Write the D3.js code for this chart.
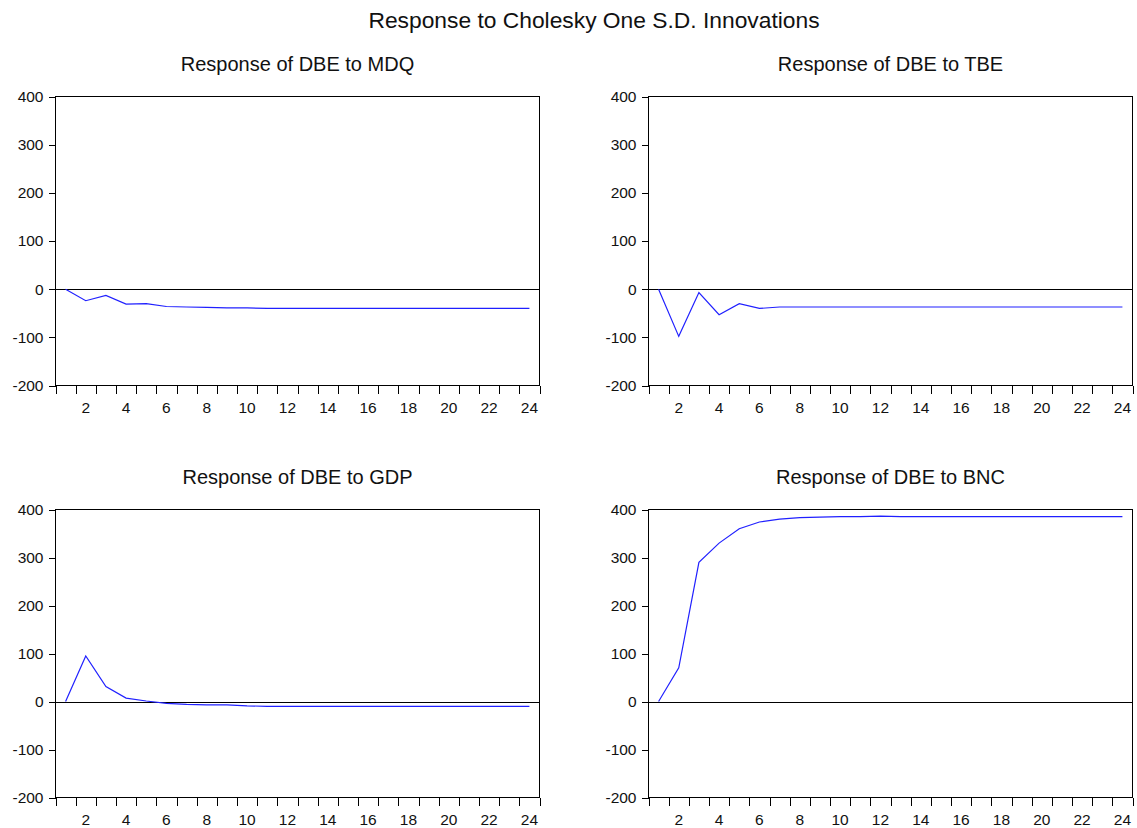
<!DOCTYPE html>
<html>
<head>
<meta charset="utf-8">
<script src="https://cdn.jsdelivr.net/npm/d3@7"></script>
<style>
  body { margin: 0; background: #fff; }
  text { font-family: "Liberation Sans", Arial, sans-serif; fill: #111; }
</style>
</head>
<body>
<div id="chart"></div>
<script>
// periods 1..24
var periods = d3.range(1, 25)

// responses
var respMDQ = [0, -24, -13, -31, -30, -36, -37, -38, -39, -39, -40, -40, -40, -40, -40, -40, -40, -40, -40, -40, -40, -40, -40, -40]
var respTBE = [0, -98, -7, -53, -30, -40, -37, -37, -37, -37, -37, -37, -37, -37, -37, -37, -37, -37, -37, -37, -37, -37, -37, -37]
var respGDP = [0, 95, 31, 7, 1, -4, -6, -7, -7, -9, -10, -10, -10, -10, -10, -10, -10, -10, -10, -10, -10, -10, -10, -10]
var respBNC = [0, 70, 290, 330, 360, 374, 380, 383, 384, 385, 385, 386, 385, 385, 385, 385, 385, 385, 385, 385, 385, 385, 385, 385]

var panelTitles = ["Response of DBE to MDQ", "Response of DBE to TBE", "Response of DBE to GDP", "Response of DBE to BNC"]
var yTicks = [-200, -100, 0, 100, 200, 300, 400]
var xLabels = [2, 4, 6, 8, 10, 12, 14, 16, 18, 20, 22, 24]

var series = [respMDQ, respTBE, respGDP, respBNC]

// create svg element:
var svg = d3.select("#chart").append("svg").attr("width", 1137).attr("height", 828)

svg.append("text")
  .attr("x", 594)
  .attr("y", 28)
  .attr("text-anchor", "middle")
  .style("font-size", "22.8px")
  .text("Response to Cholesky One S.D. Innovations")

// panel boxes: left, right, top, bottom
var boxes = [
  [55.5, 539.5, 96.5, 385.5],
  [648.5, 1132.5, 96.5, 385.5],
  [55.5, 539.5, 509.5, 797.5],
  [648.5, 1132.5, 509.5, 797.5]
]

boxes.forEach(function(b, i) {
  var x = d3.scaleLinear().domain([0.5, 24.5]).range([b[0], b[1]])
  var y = d3.scaleLinear().domain([-200, 400]).range([b[3], b[2]])
  var g = svg.append("g")

  // subplot title
  g.append("text")
    .attr("x", (b[0] + b[1]) / 2)
    .attr("y", b[2] - 26)
    .attr("text-anchor", "middle")
    .style("font-size", "20px")
    .text(panelTitles[i])

  // frame
  g.append("rect")
    .attr("x", b[0]).attr("y", b[2])
    .attr("width", b[1] - b[0]).attr("height", b[3] - b[2])
    .attr("fill", "none").attr("stroke", "#000").attr("stroke-width", 1)
    .attr("shape-rendering", "crispEdges")

  // y axis
  var yAxis = d3.axisLeft(y).tickValues(yTicks).tickSize(7).tickPadding(5).tickFormat(function(d) { return String(d) })
  var ya = g.append("g").attr("transform", "translate(" + b[0] + ",0)").call(yAxis)
  ya.select(".domain").remove()
  ya.selectAll("text").style("font-size", "15.5px").style("font-family", "Liberation Sans, Arial, sans-serif").attr("fill", "#111")
  ya.selectAll("line").attr("stroke-width", 1).attr("shape-rendering", "crispEdges")

  // x axis: ticks between periods, labels on even periods
  var xTickPos = d3.range(0.5, 25, 1)
  var xAxis = d3.axisBottom(x).tickValues(xTickPos).tickSize(8).tickFormat("")
  var xa = g.append("g").attr("transform", "translate(0," + b[3] + ")").call(xAxis)
  xa.select(".domain").remove()
  xa.selectAll("line").attr("stroke-width", 1).attr("shape-rendering", "crispEdges")

  g.selectAll(".xlab").data(xLabels).enter().append("text")
    .attr("x", function(d) { return x(d) })
    .attr("y", b[3] + 27)
    .attr("text-anchor", "middle")
    .style("font-size", "15.5px")
    .text(function(d) { return d })

  // zero line
  var y0 = Math.round(y(0)) + 0.5
  g.append("line")
    .attr("x1", b[0]).attr("x2", b[1])
    .attr("y1", y0).attr("y2", y0)
    .attr("stroke", "#000").attr("stroke-width", 1)
    .attr("shape-rendering", "crispEdges")

  // response line
  var line = d3.line()
    .x(function(d, j) { return x(periods[j]) })
    .y(function(d) { return y(d) })

  g.append("path")
    .datum(series[i])
    .attr("d", line)
    .attr("fill", "none")
    .attr("stroke", "#2020ff")
    .attr("stroke-width", 1.2)
})
</script>
</body>
</html>
